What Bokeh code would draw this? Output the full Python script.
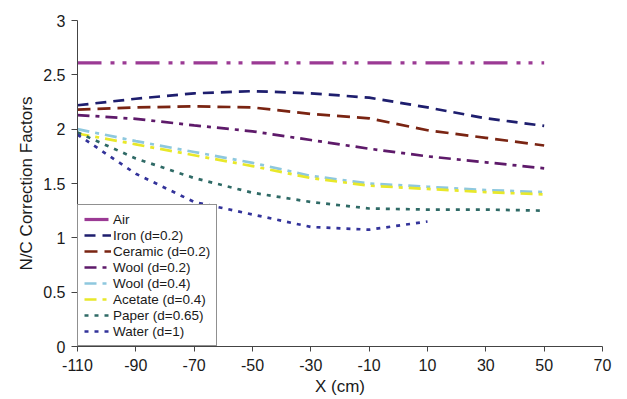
from bokeh.plotting import figure
from bokeh.models import Range1d, FixedTicker, CustomJSTickFormatter, Legend, LegendItem
from bokeh.embed import file_html
from bokeh.resources import INLINE

# Position along the bed (cm)
x_cm = [-110, -90, -70, -50, -30, -10, 10, 30, 50]
x_water = [-110, -90, -70, -50, -30, -10, 10]

# N/C correction factors per material
air = [2.61, 2.61, 2.61, 2.61, 2.61, 2.61, 2.61, 2.61, 2.61]
iron = [2.22, 2.28, 2.33, 2.35, 2.33, 2.29, 2.20, 2.10, 2.03]
ceramic = [2.18, 2.20, 2.21, 2.20, 2.14, 2.10, 1.99, 1.92, 1.85]
wool_02 = [2.13, 2.095, 2.035, 1.98, 1.90, 1.82, 1.75, 1.695, 1.64]
wool_04 = [2.00, 1.89, 1.79, 1.69, 1.57, 1.50, 1.47, 1.44, 1.42]
acetate = [1.96, 1.86, 1.76, 1.66, 1.55, 1.48, 1.45, 1.42, 1.40]
paper = [1.97, 1.73, 1.55, 1.415, 1.33, 1.27, 1.26, 1.26, 1.25]
water = [1.95, 1.59, 1.33, 1.215, 1.10, 1.075, 1.15]

x_ticks = [-110, -90, -70, -50, -30, -10, 10, 30, 50, 70]
y_ticks = [0, 0.5, 1, 1.5, 2, 2.5, 3]

FONT = "Liberation Sans"

p = figure(
    width=627, height=399,
    x_range=Range1d(-110, 70), y_range=Range1d(0, 3),
    output_backend="svg", toolbar_location=None,
    min_border_left=77, min_border_right=25,
    min_border_top=20, min_border_bottom=53,
    background_fill_color="white", border_fill_color="white",
)
p.outline_line_color = None
p.xgrid.visible = False
p.ygrid.visible = False

series = [
    ("Air", x_cm, air, "#9b3a94", 3.2, "24 9 4 8 4 9"),
    ("Iron (d=0.2)", x_cm, iron, "#1e1e6e", 2.7, "11 7"),
    ("Ceramic (d=0.2)", x_cm, ceramic, "#7a2412", 2.7, "13 7"),
    ("Wool (d=0.2)", x_cm, wool_02, "#5e1a6a", 2.7, "12 6 4 6"),
    ("Wool (d=0.4)", x_cm, wool_04, "#8ec8de", 2.7, "12 6 4 6"),
    ("Acetate (d=0.4)", x_cm, acetate, "#e8e82a", 2.7, "12 6 4 6"),
    ("Paper (d=0.65)", x_cm, paper, "#2f6a66", 2.7, "4 6"),
    ("Water (d=1)", x_water, water, "#33339a", 2.7, "4 6"),
]

items = []
for label, xs, ys, color, width, dash in series:
    r = p.line(xs, ys, line_color=color, line_width=width, line_dash=dash)
    items.append(LegendItem(label=label, renderers=[r]))

tick_fmt = CustomJSTickFormatter(code="return String(tick);")

xa = p.xaxis[0]
xa.ticker = FixedTicker(ticks=x_ticks)
xa.formatter = tick_fmt
xa.axis_label = "X (cm)"
xa.minor_tick_line_color = None
xa.major_tick_in = 0
xa.major_tick_out = 5
xa.major_label_standoff = 7
xa.axis_label_standoff = 3

ya = p.yaxis[0]
ya.ticker = FixedTicker(ticks=y_ticks)
ya.formatter = tick_fmt
ya.axis_label = "N/C Correction Factors"
ya.minor_tick_line_color = None
ya.major_tick_in = 0
ya.major_tick_out = 6
ya.major_label_standoff = 6
ya.axis_label_standoff = 4

for ax in (xa, ya):
    ax.axis_line_color = "#444444"
    ax.major_tick_line_color = "#444444"
    ax.major_label_text_font = FONT
    ax.major_label_text_font_size = "16px"
    ax.major_label_text_color = "#1a1a1a"
    ax.axis_label_text_font = FONT
    ax.axis_label_text_font_size = "17px"
    ax.axis_label_text_font_style = "normal"
    ax.axis_label_text_color = "#1a1a1a"

legend = Legend(
    items=items,
    location="bottom_left",
    margin=0,
    padding=6,
    spacing=0,
    glyph_width=27,
    glyph_height=16,
    label_height=16,
    label_standoff=2,
    label_text_font=FONT,
    label_text_font_size="13.5px",
    label_text_color="#1a1a1a",
    border_line_color="#222222",
    border_line_width=1,
    background_fill_color="white",
    background_fill_alpha=1.0,
)
p.add_layout(legend)

open("out.html", "w").write(file_html(p, INLINE))
